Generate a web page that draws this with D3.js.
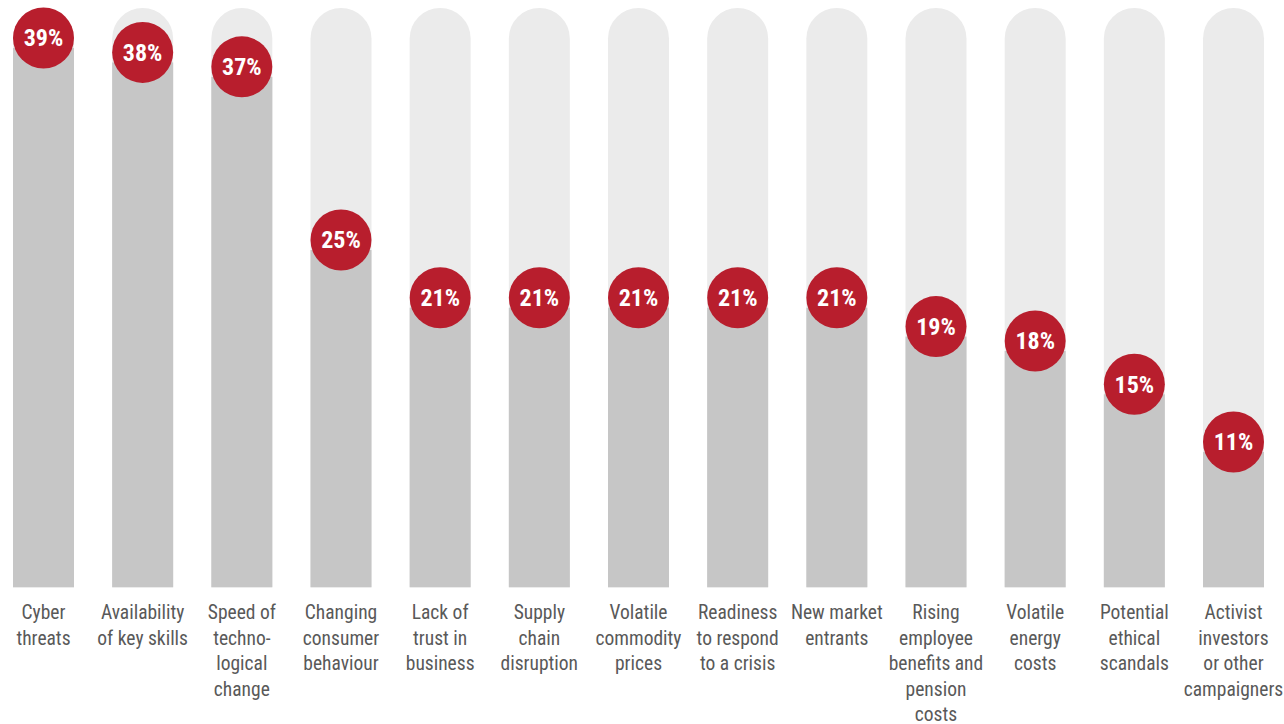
<!DOCTYPE html>
<html>
<head>
<meta charset="utf-8">
<script src="https://cdn.jsdelivr.net/npm/d3@7"></script>
<style>
    body { margin: 0; background: #fff; }
    .chart text { font-family: "Liberation Sans Narrow", "Arial Narrow", "Roboto Condensed", "Liberation Sans", sans-serif; }
</style>
</head>
<body>
<div class="chart"></div>
<script>
// data
const categories = [
    ["Cyber", "threats"],
    ["Availability", "of key skills"],
    ["Speed of", "techno-", "logical", "change"],
    ["Changing", "consumer", "behaviour"],
    ["Lack of", "trust in", "business"],
    ["Supply", "chain", "disruption"],
    ["Volatile", "commodity", "prices"],
    ["Readiness", "to respond", "to a crisis"],
    ["New market", "entrants"],
    ["Rising", "employee", "benefits and", "pension", "costs"],
    ["Volatile", "energy", "costs"],
    ["Potential", "ethical", "scandals"],
    ["Activist", "investors", "or other", "campaigners"]
];
const values = [39, 38, 37, 25, 21, 21, 21, 21, 21, 19, 18, 15, 11];

// dimensions
const width = 1284;
const height = 724;
const trackTop = 8;
const baseline = 588;
const radius = 30.5;

// colours
const trackColour = "#ebebeb";
const barColour = "#c6c6c6";
const dotColour = "#b81e2d";
const labelColour = "#595959";

const svg = d3.select(".chart")
    .append("svg")
    .attr("width", width)
    .attr("height", height);

const x = d3.scaleBand()
    .domain(d3.range(values.length))
    .range([13, 1264])
    .paddingInner(0.385)
    .paddingOuter(0);

// circle positions
const y = d3.scaleLinear()
    .domain([11, 39])
    .range([442, 38]);

const bw = x.bandwidth();

// background tracks with rounded tops
function trackPath(x0) {
    const r = bw / 2;
    return "M" + x0 + "," + baseline +
        "V" + (trackTop + r) +
        "A" + r + "," + r + " 0 0 1 " + (x0 + bw) + "," + (trackTop + r) +
        "V" + baseline + "Z";
}

const cols = svg.selectAll(".col")
    .data(values)
    .enter()
    .append("g")
    .attr("class", "col");

cols.append("path")
    .attr("d", (d, i) => trackPath(x(i)))
    .style("fill", trackColour);

cols.append("rect")
    .attr("x", (d, i) => x(i))
    .attr("y", d => y(d) + 10)
    .attr("width", bw)
    .attr("height", d => baseline - 1 - (y(d) + 10))
    .style("fill", barColour);

cols.append("circle")
    .attr("cx", (d, i) => x(i) + bw / 2)
    .attr("cy", d => y(d))
    .attr("r", radius)
    .style("fill", dotColour);

cols.append("text")
    .attr("x", (d, i) => x(i) + bw / 2)
    .attr("y", d => y(d))
    .attr("dy", "0.35em")
    .attr("text-anchor", "middle")
    .style("fill", "#fff")
    .style("font-weight", "bold")
    .style("font-size", "24px")
    .text(d => d + "%");

// category labels
const labels = svg.selectAll(".label")
    .data(categories)
    .enter()
    .append("text")
    .attr("class", "label")
    .attr("text-anchor", "middle")
    .style("fill", labelColour)
    .style("font-size", "19.5px");

labels.selectAll("tspan")
    .data((d, i) => d.map(line => ({ line, i })))
    .enter()
    .append("tspan")
    .attr("x", d => x(d.i) + bw / 2)
    .attr("y", (d, j) => 619 + j * 25.5)
    .text(d => d.line);
</script>
</body>
</html>
